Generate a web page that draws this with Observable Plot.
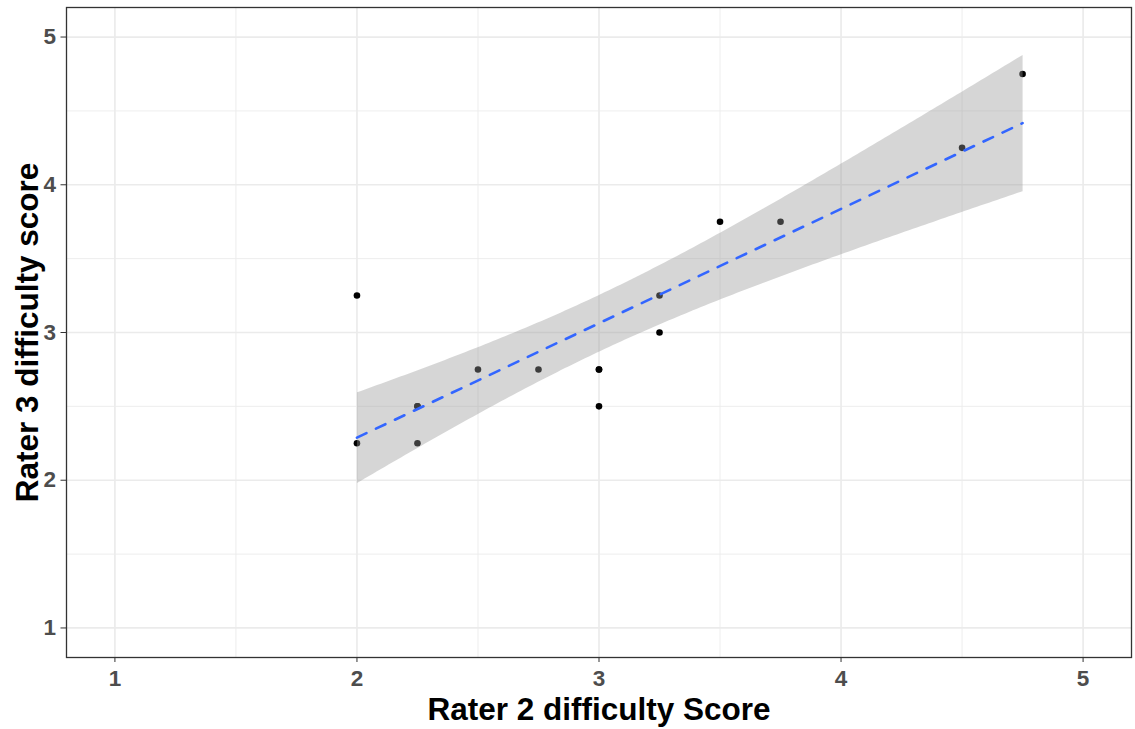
<!DOCTYPE html>
<html>
<head>
<meta charset="utf-8">
<script src="https://cdn.jsdelivr.net/npm/d3@7"></script>
<script src="https://cdn.jsdelivr.net/npm/@observablehq/plot@0.6"></script>
<style>
  html, body { margin: 0; padding: 0; background: #ffffff; }
  #chart svg { display: block; }
</style>
</head>
<body>
<div id="chart"></div>
<script>
// Rater 2 (x) vs Rater 3 (y) difficulty scores.
// The last two entries coincide exactly with visible points (overlapping
// observations); their presence is read from the width of the confidence band.
const rater2 = [2, 2, 2.25, 2.25, 2.5, 2.75, 3, 3, 3.25, 3.25, 3.5, 3.75, 4.5, 4.75, 2.25, 3];
const rater3 = [3.25, 2.25, 2.5, 2.25, 2.75, 2.75, 2.75, 2.5, 3.25, 3.0, 3.75, 3.75, 4.25, 4.75, 2.5, 2.75];
const majorTicks = [1, 2, 3, 4, 5];
const minorTicks = [1.5, 2.5, 3.5, 4.5];
const xTitle = "Rater 2 difficulty Score";
const yTitle = "Rater 3 difficulty score";

const data = rater2.map((x, i) => ({x, y: rater3[i]}));

const font = "'Liberation Sans', Arial, Helvetica, sans-serif";

const chart = Plot.plot({
  width: 1135,
  height: 729,
  marginLeft: 66,
  marginRight: 4,
  marginTop: 7,
  marginBottom: 72,
  style: {fontFamily: font, background: "#ffffff", overflow: "visible"},
  x: {domain: [0.8, 5.2]},
  y: {domain: [0.8, 5.2]},
  marks: [
    Plot.gridX(minorTicks, {stroke: "#EBEBEB", strokeOpacity: 1, strokeWidth: 0.9}),
    Plot.gridY(minorTicks, {stroke: "#EBEBEB", strokeOpacity: 1, strokeWidth: 0.9}),
    Plot.gridX(majorTicks, {stroke: "#EBEBEB", strokeOpacity: 1, strokeWidth: 1.7}),
    Plot.gridY(majorTicks, {stroke: "#EBEBEB", strokeOpacity: 1, strokeWidth: 1.7}),
    Plot.dot(data, {x: "x", y: "y", r: 3.3, fill: "#000000", stroke: "none"}),
    Plot.linearRegressionY(data, {
      x: "x", y: "y",
      ci: 0.95,
      stroke: "#3366FF",
      strokeWidth: 2.6,
      strokeDasharray: "10.5,10.5",
      fill: "#999999",
      fillOpacity: 0.4
    }),
    Plot.frame({stroke: "#333333", strokeWidth: 1.3}),
    Plot.axisX(majorTicks, {
      anchor: "bottom", label: null, tickSize: 5, tickPadding: 7.5, tickFormat: d => String(d),
      stroke: "#333333", fill: "#4D4D4D", fontSize: 22.5, fontWeight: "bold"
    }),
    Plot.axisY(majorTicks, {
      anchor: "left", label: null, tickSize: 5.5, tickPadding: 5, tickFormat: d => String(d),
      stroke: "#333333", fill: "#4D4D4D", fontSize: 22.5, fontWeight: "bold"
    }),
    Plot.text([xTitle], {
      text: d => d, frameAnchor: "bottom", lineAnchor: "bottom", textAnchor: "middle", dy: 62,
      fontSize: 31.5, fontWeight: "bold", fill: "#000000"
    }),
    Plot.text([yTitle], {
      text: d => d, frameAnchor: "left", lineAnchor: "bottom", textAnchor: "middle", rotate: -90, dx: -29,
      fontSize: 31.5, fontWeight: "bold", fill: "#000000"
    })
  ]
});

document.getElementById("chart").appendChild(chart);
</script>
</body>
</html>
